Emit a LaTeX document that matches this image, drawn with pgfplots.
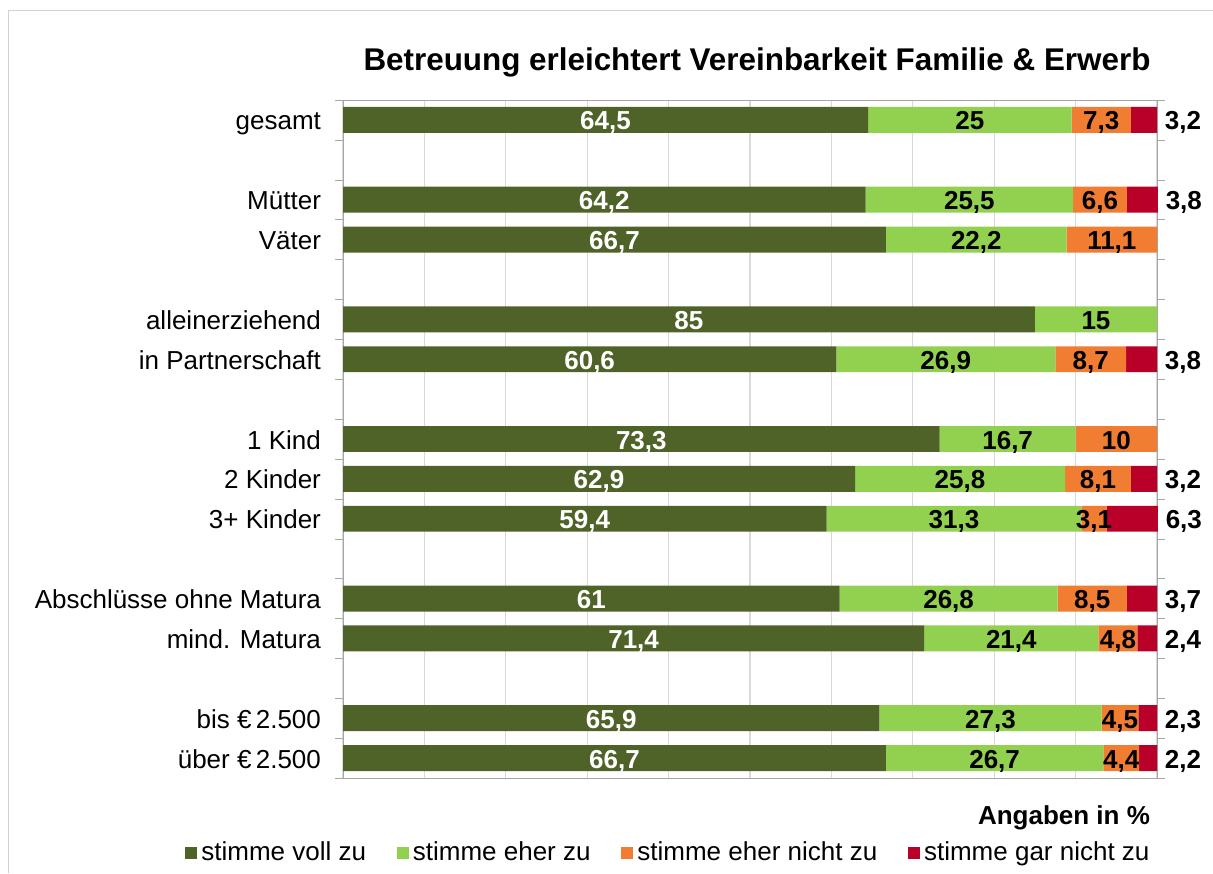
\documentclass[border=0pt]{standalone}
\usepackage{fontspec}
\setmainfont{Liberation Sans}
\usepackage{pgfplots}
\pgfplotsset{compat=1.18}
\definecolor{voll}{RGB}{79,98,40}
\definecolor{eher}{RGB}{146,208,80}
\definecolor{ehernicht}{RGB}{240,125,50}
\definecolor{garnicht}{RGB}{185,0,40}
\definecolor{gridgray}{RGB}{217,217,217}
\definecolor{axisgray}{RGB}{166,166,166}
\newcommand{\lblfont}{\fontsize{13}{15.6}\selectfont}

\begin{document}
\begin{tikzpicture}
\useasboundingbox (0,0) rectangle (606.5pt,436.5pt);
\draw[gray!35] (4pt,0pt) -- (4pt,431.5pt) -- (606.5pt,431.5pt);
\node[font=\fontsize{15.7}{19}\selectfont\bfseries] at (378.5pt,405.5pt)
  {Betreuung erleichtert Vereinbarkeit Familie \& Erwerb};
\node[anchor=east, font=\lblfont\bfseries] at (578.5pt,27.5pt) {Angaben in \%};
\begin{axis}[
  at={(171.5pt,47.5pt)}, anchor=south west,
  scale only axis, width=407pt, height=339pt,
  xbar stacked, bar width=0.65,
  xmin=0, xmax=100, ymin=-0.5, ymax=16.5, y dir=reverse,
  xtick={0,10,...,100}, xticklabels={},
  xmajorgrids, grid style={color=gridgray, line width=0.6pt},
  ytick={0,2,3,5,6,8,9,10,12,13,15,16},
  yticklabels={gesamt,Mütter,Väter,alleinerziehend,in Partnerschaft,1 Kind,2 Kinder,3+ Kinder,Abschlüsse ohne Matura,mind. Matura,bis €\,2.500,über €\,2.500},
  minor ytick={-0.5,0.5,...,16.5},
  major tick length=0pt, minor tick length=4pt, tick align=outside,
  tick style={color=axisgray},
  axis line style={color=axisgray},
  yticklabel style={font=\lblfont, anchor=base east, xshift=-7.5pt, yshift=-5pt},
  clip=false,
  /pgf/number format/use comma,
  /pgf/number format/fixed,
  /pgf/number format/assume math mode=true,
  % stacked labels sit in the middle of each segment already
  midlabel/.style={
    nodes near coords={\pgfmathfloatifflags{\pgfplotspointmeta}{0}{}{\pgfmathprintnumber{\pgfplotspointmeta}}},
    nodes near coords style={anchor=base, yshift=-5pt, font=\lblfont\bfseries, text=#1}},
  % small red segments: label right of the bar end
  outlabel/.style={
    nodes near coords={\pgfmathfloatifflags{\pgfplotspointmeta}{0}{}{\pgfmathprintnumber{\pgfplotspointmeta}}},
    visualization depends on={rawx \as \rawx},
    nodes near coords style={anchor=base, yshift=-5pt, xshift={13pt+2.035pt*\rawx}, font=\lblfont\bfseries, text=black}},
  legend columns=4,
  legend style={at={(-0.1941,-0.1106)}, anchor=west, draw=none, fill=none,
    inner sep=0pt, font=\lblfont,
    /tikz/every even column/.append style={column sep=13.4pt}},
  legend image code/.code={\fill[#1] (0pt,-3pt) rectangle (6pt,3pt);},
]
% stimme voll zu
\addplot[fill=voll, draw=none, midlabel=white] coordinates {
  (64.5,0) (64.2,2) (66.7,3) (85,5) (60.6,6) (73.3,8)
  (62.9,9) (59.4,10) (61,12) (71.4,13) (65.9,15) (66.7,16)};
% stimme eher zu
\addplot[fill=eher, draw=none, midlabel=black] coordinates {
  (25,0) (25.5,2) (22.2,3) (15,5) (26.9,6) (16.7,8)
  (25.8,9) (31.3,10) (26.8,12) (21.4,13) (27.3,15) (26.7,16)};
% stimme eher nicht zu
\addplot[fill=ehernicht, draw=none, midlabel=black] coordinates {
  (7.3,0) (6.6,2) (11.1,3) (0,5) (8.7,6) (10,8)
  (8.1,9) (3.1,10) (8.5,12) (4.8,13) (4.5,15) (4.4,16)};
% stimme gar nicht zu
\addplot[fill=garnicht, draw=none, outlabel] coordinates {
  (3.2,0) (3.8,2) (0,3) (0,5) (3.8,6) (0,8)
  (3.2,9) (6.3,10) (3.7,12) (2.4,13) (2.3,15) (2.2,16)};
\legend{stimme voll zu, stimme eher zu, stimme eher nicht zu, stimme gar nicht zu}
\end{axis}
\end{tikzpicture}
\end{document}
